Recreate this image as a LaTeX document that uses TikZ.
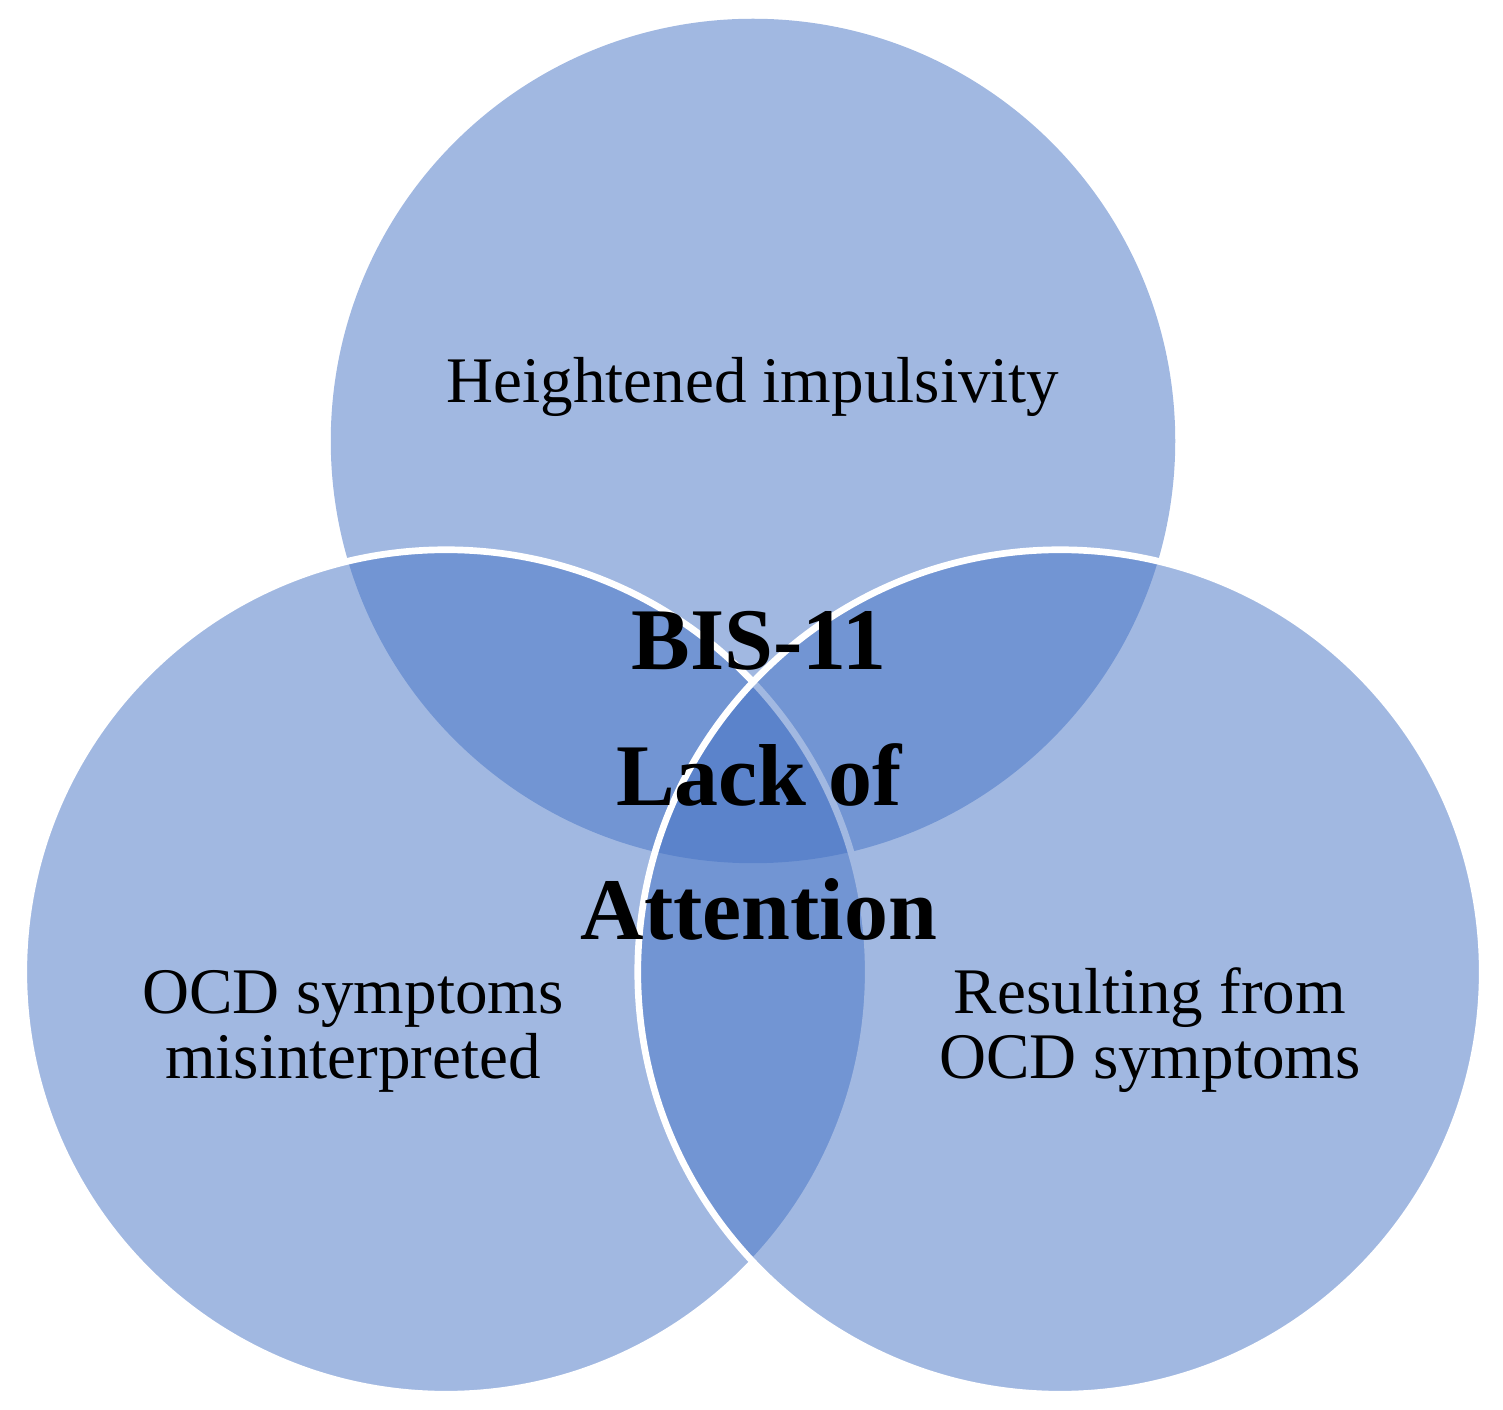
\documentclass[tikz,border=0pt]{standalone}
\usepackage{fontspec}
\setmainfont{Liberation Serif}
\definecolor{vennblue}{HTML}{4472C4}
\tikzset{
  venn/.style={circle, inner sep=0pt, outer sep=0pt, minimum size=8.44cm, fill=vennblue, fill opacity=0.5},
  vennedge/.style={draw=white, line width=1.9pt},
  lbl/.style={anchor=base, inner sep=0pt, text=black, font=\fontsize{18.5}{21}\selectfont},
  boldlbl/.style={anchor=base, inner sep=0pt, text=black, font=\fontsize{25}{29}\selectfont\bfseries}
}
\begin{document}
\begin{tikzpicture}[x=0.01cm, y=-0.01cm]
\useasboundingbox (0,0) rectangle (1503,1410);
\node[venn] (top) at (753,441) {};
\node[venn, vennedge] (left) at (446,972) {};
\node[venn, vennedge] (right) at (1060,972) {};
\node[lbl] (t1) at (753,403) {Heightened impulsivity};
\node[lbl] (l1) at (353,1013) {OCD symptoms};
\node[lbl] (l2) at (353,1078) {misinterpreted};
\node[lbl] (r1) at (1150,1013) {Resulting from};
\node[lbl] (r2) at (1150,1078) {OCD symptoms};
\node[boldlbl] (c1) at (759,670) {BIS-11};
\node[boldlbl] (c2) at (759,806) {Lack of};
\node[boldlbl] (c3) at (759,940) {Attention};
\end{tikzpicture}
\end{document}
